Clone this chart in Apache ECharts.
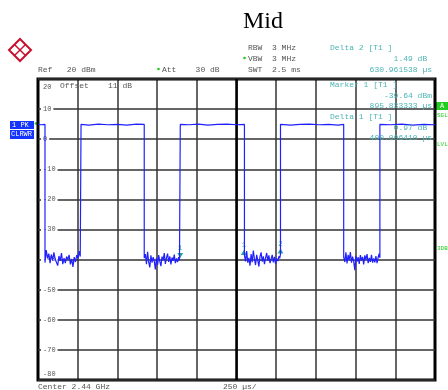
<!DOCTYPE html>
<html>
<head>
<meta charset="utf-8">
<script src="https://cdn.jsdelivr.net/npm/echarts@6/dist/echarts.min.js"></script>
<style>
html, body { margin: 0; padding: 0; background: #fff; }
#chart { width: 448px; height: 390px; }
</style>
</head>
<body>
<div id="chart"></div>
<script>
// sweep time in µs (250 µs/div, 10 div), level in dBm (ref 20 dBm, 10 dB/div)
const yTicks = [20, 10, 0, -10, -20, -30, -40, -50, -60, -70, -80];

const burst0 = [[0, 4.9], [20, 4.8], [44, 4.9]];
const noise1 = [
  [44, -41.0], [52, -36.8], [60, -39.6], [68, -38.0], [76, -41.2], [84, -38.3],
  [92, -40.3], [100, -37.6], [108, -39.8], [116, -39.2], [124, -42.0], [132, -38.8],
  [140, -40.4], [148, -37.8], [156, -41.5], [164, -39.5], [172, -41.2], [180, -39.0],
  [188, -40.0], [196, -38.4], [204, -41.6], [212, -39.8], [220, -42.4], [228, -39.2],
  [236, -40.8], [244, -38.5], [252, -39.6], [260, -37.2], [266, -39.0], [271, -38.8]
];
const burst1 = [[271, 4.9], [320, 4.7], [380, 5.0], [440, 4.8], [500, 4.9], [560, 4.7], [620, 5.0], [669, 4.9]];
const noise2 = [
  [669, -39.5], [676, -38.2], [683, -41.5], [690, -37.4], [697, -40.8], [704, -42.6],
  [711, -38.6], [718, -41.0], [725, -39.2], [732, -40.5], [739, -43.3], [746, -39.4],
  [753, -41.8], [760, -38.5], [767, -40.6], [774, -42.2], [781, -39.0], [788, -40.2],
  [795, -37.8], [802, -41.4], [809, -39.4], [816, -38.0], [823, -40.8], [830, -38.9],
  [837, -41.6], [844, -39.3], [851, -40.4], [858, -38.3], [865, -41.2], [872, -39.6],
  [879, -40.8], [886, -39.2], [891, -40.2], [896, -39.6]
];
const burst2 = [[896, 4.9], [950, 4.8], [1010, 5.0], [1070, 4.7], [1130, 4.9], [1190, 5.0], [1250, 4.8], [1300, 4.9]];
const noise3 = [
  [1300, -38.6], [1307, -40.6], [1314, -37.2], [1321, -41.0], [1328, -39.4], [1335, -42.0],
  [1342, -38.2], [1349, -40.9], [1356, -37.0], [1363, -39.8], [1370, -41.8], [1377, -38.4],
  [1384, -40.2], [1391, -42.3], [1398, -39.0], [1405, -37.6], [1412, -40.7], [1419, -38.9],
  [1426, -41.5], [1433, -39.5], [1440, -37.8], [1447, -40.4], [1454, -38.6], [1461, -41.2],
  [1468, -39.8], [1475, -38.4], [1482, -40.9], [1489, -39.1], [1496, -41.4], [1503, -39.6],
  [1510, -40.5], [1517, -38.9], [1522, -39.6], [1527, -38.2]
];
const burst3 = [[1527, 4.9], [1590, 4.7], [1650, 4.9], [1710, 5.0], [1770, 4.8], [1830, 4.9], [1890, 4.7], [1925, 4.9]];
const noise4 = [
  [1925, -39.2], [1932, -40.8], [1939, -37.6], [1946, -41.3], [1953, -38.4], [1960, -40.2],
  [1967, -37.5], [1974, -41.0], [1981, -39.0], [1988, -40.6], [1995, -43.5], [2002, -38.8],
  [2009, -40.7], [2016, -39.2], [2023, -41.4], [2030, -38.5], [2037, -40.3], [2044, -39.1],
  [2051, -41.6], [2058, -38.6], [2065, -40.0], [2072, -38.2], [2079, -41.2], [2086, -39.4],
  [2093, -40.8], [2100, -38.4], [2107, -41.0], [2114, -39.6], [2121, -40.9], [2128, -38.8],
  [2135, -41.2], [2142, -39.3], [2148, -38.0], [2153, -39.4]
];
const burst4 = [[2153, 4.9], [2220, 4.8], [2290, 5.0], [2360, 4.7], [2430, 4.9], [2500, 4.8]];

const trace = [].concat(burst0, noise1, burst1, noise2, burst2, noise3, burst3, noise4, burst4);

// markers: marker 1, delta 1, delta 2
const markerNames = ["1", "1", "2"];
const markerTimes = [895.83, 1295.84, 1526.79];
const markerLevels = [-39.64, -38.67, -38.15];

const mono = "'Liberation Mono', 'DejaVu Sans Mono', monospace";
const grey = "#555";
const cyan = "#4cb4b4";
const green = "#22cc22";

function txt(x, y, text, color, size, align) {
  return {
    type: "text",
    x: x,
    y: y,
    z: 10,
    style: {
      text: text,
      fill: color,
      font: (size || 8) + "px " + mono,
      align: align || "left",
      verticalAlign: "middle",
    },
  };
}

const chart = echarts.init(document.getElementById("chart"));

chart.setOption({
  animation: false,
  backgroundColor: "#fff",
  grid: {
    left: 38,
    right: 13,
    top: 79,
    bottom: 10,
    show: true,
    borderColor: "#000",
    borderWidth: 3,
    z: 3,
  },
  xAxis: {
    type: "value",
    min: 0,
    max: 2500,
    interval: 250,
    axisLine: { show: false },
    axisTick: { show: false },
    axisLabel: { show: false },
    splitLine: { show: true, lineStyle: { color: "#333", width: 1.5 } },
  },
  yAxis: {
    type: "value",
    min: yTicks[yTicks.length - 1],
    max: yTicks[0],
    interval: 10,
    axisLine: { show: false },
    axisTick: { show: false },
    splitLine: { show: true, lineStyle: { color: "#333", width: 1.5 } },
    axisLabel: {
      inside: true,
      margin: 3,
      color: grey,
      fontFamily: mono,
      fontSize: 7,
      formatter: function (v) {
        if (v === yTicks[0]) return "{t|" + v + "}";
        if (v === yTicks[yTicks.length - 1]) return "{b|" + v + "}";
        return "{m|" + v + "}";
      },
      rich: {
        t: { padding: [16, 0, 0, 2], color: grey, fontFamily: mono, fontSize: 7 },
        b: { padding: [0, 0, 12, 2], color: grey, fontFamily: mono, fontSize: 7 },
        m: { backgroundColor: "#fff", padding: [1, 2], color: grey, fontFamily: mono, fontSize: 7 },
      },
    },
    z: 4,
  },
  series: [
    {
      type: "line",
      data: trace,
      symbol: "none",
      z: 5,
      lineStyle: { color: "#2020ff", width: 1.2 },
      markLine: {
        silent: true,
        symbol: "none",
        label: { show: false },
        lineStyle: { color: "#000", width: 2.5, type: "solid" },
        data: [{ xAxis: 1250 }],
      },
      markPoint: {
        silent: true,
        data: markerTimes.map(function (t, i) {
          return {
            coord: [t, markerLevels[i]],
            symbol: "triangle",
            symbolSize: [6, 5],
            symbolRotate: i === 0 ? 180 : 0,
            symbolOffset: [0, -3],
            itemStyle: { color: "#2aa3a3" },
            label: {
              show: true,
              position: "top",
              distance: 1,
              formatter: markerNames[i],
              color: cyan,
              fontFamily: mono,
              fontSize: 8,
            },
          };
        }),
      },
    },
  ],
  graphic: [
    // title
    {
      type: "text",
      x: 263,
      y: 22,
      style: {
        text: "Mid",
        fill: "#000",
        font: "24px 'Liberation Serif', serif",
        align: "center",
        verticalAlign: "middle",
      },
    },
    // R&S logo
    {
      type: "polygon",
      shape: { points: [[20, 39], [31, 50], [20, 61], [9, 50]] },
      style: { fill: "none", stroke: "#c8102e", lineWidth: 2 },
    },
    {
      type: "polyline",
      shape: { points: [[14.5, 44.5], [25.5, 55.5]] },
      style: { stroke: "#c8102e", lineWidth: 1.5 },
    },
    {
      type: "polyline",
      shape: { points: [[25.5, 44.5], [14.5, 55.5]] },
      style: { stroke: "#c8102e", lineWidth: 1.5 },
    },
    // setup text
    txt(248, 48, "RBW  3 MHz", grey, 8),
    txt(248, 59, "VBW  3 MHz", grey, 8),
    txt(248, 70, "SWT  2.5 ms", grey, 8),
    { type: "circle", shape: { cx: 244.5, cy: 58, r: 1.3 }, style: { fill: green } },
    txt(38, 70, "Ref   20 dBm", grey, 8),
    { type: "circle", shape: { cx: 158.5, cy: 69, r: 1.3 }, style: { fill: green } },
    txt(162, 70, "Att    30 dB", grey, 8),
    txt(60, 86, "Offset    11 dB", grey, 8),
    // marker readout
    txt(330, 48, "Delta 2 [T1 ]", cyan, 8),
    txt(432, 59, "1.49 dB ", cyan, 8, "right"),
    txt(432, 70, "630.961538 µs", cyan, 8, "right"),
    txt(330, 85, "Marker 1 [T1 ]", cyan, 8),
    txt(432, 96, "-39.64 dBm", cyan, 8, "right"),
    txt(432, 106, "895.833333 µs", cyan, 8, "right"),
    txt(330, 117, "Delta 1 [T1 ]", cyan, 8),
    txt(432, 128, "0.97 dB ", cyan, 8, "right"),
    txt(432, 138, "400.006410 µs", cyan, 8, "right"),
    // trace badge
    {
      type: "rect",
      shape: { x: 10, y: 121, width: 24, height: 8 },
      style: { fill: "#1535ff" },
    },
    txt(12, 125, "1 PK", "#fff", 7),
    {
      type: "rect",
      shape: { x: 10, y: 130, width: 24, height: 9 },
      style: { fill: "#1535ff" },
    },
    txt(11, 134.5, "CLRWR", "#fff", 7),
    { type: "circle", shape: { cx: 36, cy: 123.5, r: 1.3 }, style: { fill: green } },
    // right side status
    {
      type: "rect",
      shape: { x: 436, y: 102, width: 12, height: 8 },
      style: { fill: green },
    },
    txt(442, 106, "A", "#fff", 7, "center"),
    txt(437, 115, "SGL", green, 6),
    txt(437, 144, "LVL", green, 6),
    txt(437, 248, "3DB", green, 6),
    // bottom
    txt(38, 387, "Center 2.44 GHz", grey, 8),
    txt(223, 387, "250 µs/", grey, 8),
  ],
});
</script>
</body>
</html>
